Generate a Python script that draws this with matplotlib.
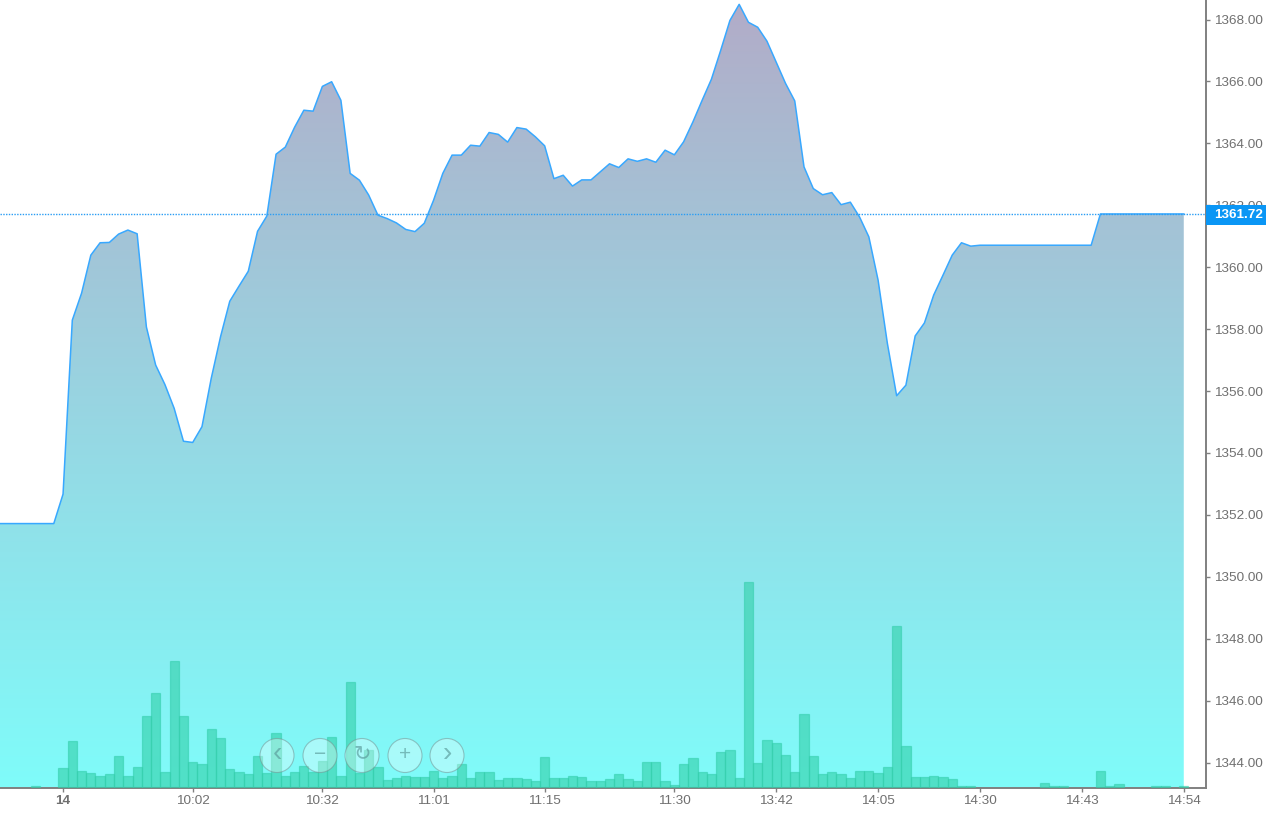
import numpy as np
import matplotlib
matplotlib.use("Agg")
import matplotlib.pyplot as plt
from matplotlib.patches import Polygon, Circle, Rectangle
from matplotlib.transforms import blended_transform_factory

plt.rcParams['font.family'] = ['Liberation Sans', 'DejaVu Sans']

W, H = 1266, 813

price = [
    1351.72, 1351.72, 1351.72, 1351.72, 1351.72, 1351.72, 1351.72,
    1352.67, 1358.29, 1359.16, 1360.39, 1360.79, 1360.80, 1361.07, 1361.20, 1361.08,
    1358.07, 1356.84, 1356.21, 1355.44, 1354.38, 1354.34, 1354.85, 1356.41, 1357.75,
    1358.90, 1359.39, 1359.87, 1361.16, 1361.65, 1363.65, 1363.88, 1364.52, 1365.07,
    1365.04, 1365.84, 1365.99, 1365.39, 1363.03, 1362.81, 1362.33, 1361.68, 1361.57,
    1361.43, 1361.22, 1361.15, 1361.42, 1362.16, 1363.03, 1363.62, 1363.62, 1363.94,
    1363.91, 1364.35, 1364.29, 1364.04, 1364.51, 1364.46, 1364.21, 1363.92, 1362.86,
    1362.97, 1362.62, 1362.82, 1362.82, 1363.08, 1363.34, 1363.22, 1363.50, 1363.42,
    1363.50, 1363.39, 1363.78, 1363.63, 1364.05, 1364.69, 1365.39, 1366.07, 1367.00,
    1367.97, 1368.49, 1367.91, 1367.75, 1367.30, 1366.62, 1365.94, 1365.37, 1363.24,
    1362.54, 1362.34, 1362.41, 1362.02, 1362.10, 1361.62, 1360.98, 1359.58, 1357.54,
    1355.85, 1356.19, 1357.78, 1358.20, 1359.10, 1359.74, 1360.39, 1360.79, 1360.68,
    1360.71, 1360.71, 1360.71, 1360.71, 1360.71, 1360.71, 1360.71, 1360.71, 1360.71,
    1360.71, 1360.71, 1360.71, 1360.71, 1361.72, 1361.72, 1361.72, 1361.72, 1361.72,
    1361.72, 1361.72, 1361.72, 1361.72, 1361.72,
]

volume = [
    0, 0, 0, 0, 1.3, 0, 0,
    19, 46.3, 16.3, 14, 11.3, 12.7, 31.3, 11.3, 20,
    71.3, 94, 15, 126.3, 71.3, 25, 22.7, 57.7, 49,
    17.7, 15, 12.7, 31.3, 14, 54, 11.3, 15, 21.3,
    15.3, 26.3, 50, 11.3, 105, 14, 37, 20, 7.3,
    9, 11, 10, 10, 16.3, 8.7, 11.3, 22.7, 8.7,
    15, 15, 7.3, 9, 9, 7.7, 6.3, 30, 8.7,
    8.7, 11.3, 10, 6.3, 6.3, 7.7, 12.7, 7.7, 6.3,
    25, 25, 6.3, 2.3, 22.7, 28.7, 15, 12.7, 35,
    37.3, 9, 205, 24, 47.3, 44, 32.3, 15, 72.7,
    31.3, 12.7, 15, 12.7, 9, 16.3, 16.3, 14, 20,
    161.3, 41.3, 10, 10, 11.3, 10, 7.7, 1.3, 1.3,
    0, 0, 0, 0, 0, 0, 0, 4, 1.3,
    1.3, 0, 0, 0, 16.3, 1.3, 2.7, 0, 0,
    0, 1.3, 1.3, 0, 1.3,
]

x_tick_pos = [7, 21, 35, 47, 59, 73, 84, 95, 106, 117, 128]
x_tick_labels = ["14", "10:02", "10:32", "11:01", "11:15", "11:30", "13:42", "14:05", "14:30", "14:43", "14:54"]
y_ticks = [1344, 1346, 1348, 1350, 1352, 1354, 1356, 1358, 1360, 1362, 1364, 1366, 1368]
last_price = 1361.72

button_x = [277, 320, 362, 405, 447]
button_glyphs = ["‹", "−", "↻", "+", "›"]

AXIS_COLOR = "#808080"
TEXT_COLOR = "#707070"
LINE_COLOR = "#38a8ff"

x = np.arange(len(price))

fig = plt.figure(figsize=(W / 100, H / 100), dpi=100, facecolor="white")
ax = fig.add_axes([0, 25 / H, 1206 / W, 788 / H])

ylim = (1343.18, 1368.63)
xlim = (0.194, 130.4)
ax.set_xlim(*xlim)
ax.set_ylim(*ylim)

# gradient under the line
top_rgb = np.array([178, 172, 200]) / 255
bottom_rgb = np.array([127, 252, 250]) / 255
steps = np.linspace(0, 1, 256)[:, None, None]
grad = top_rgb[None, None, :] * (1 - steps) + bottom_rgb[None, None, :] * steps
img = ax.imshow(grad, extent=[x[0], x[-1], ylim[0], max(price)], aspect="auto", zorder=1, interpolation="bilinear")
verts = [(x[0], ylim[0])] + list(zip(x, price)) + [(x[-1], ylim[0])]
clip = Polygon(verts, closed=True, transform=ax.transData, facecolor="none", edgecolor="none")
ax.add_patch(clip)
img.set_clip_path(clip)
ax.set_xlim(*xlim)
ax.set_ylim(*ylim)

ax.plot(x, price, color=LINE_COLOR, lw=1.1, zorder=3)
ax.axhline(last_price, color="#2a9df4", lw=1.0, ls=(0, (1, 1)), zorder=4)

ax.spines["top"].set_visible(False)
ax.spines["left"].set_visible(False)
ax.spines["right"].set_color(AXIS_COLOR)
ax.spines["bottom"].set_color(AXIS_COLOR)
ax.spines["right"].set_linewidth(1.4)
ax.spines["bottom"].set_linewidth(1.4)

ax.yaxis.tick_right()
ax.set_yticks(y_ticks)
ax.set_yticklabels([f"{v:.2f}" for v in y_ticks])
ax.set_xticks(x_tick_pos)
ax.set_xticklabels(x_tick_labels)
ax.tick_params(axis="y", length=3, width=1, color=AXIS_COLOR, labelcolor=TEXT_COLOR, labelsize=9.7, pad=3)
ax.tick_params(axis="x", length=3, width=1, color=AXIS_COLOR, labelcolor=TEXT_COLOR, labelsize=9.7, pad=2)
ax.get_xticklabels()[0].set_fontweight("bold")

# volume bars, own scale in the same box
ax_vol = fig.add_axes(ax.get_position(), facecolor="none")
ax_vol.set_xlim(ax.get_xlim())
ax_vol.set_ylim(-1, 787)
ax_vol.axis("off")
vol = np.array(volume)
mask = vol > 0
ax_vol.bar(x[mask], vol[mask], width=1.0, color=(49 / 255, 207 / 255, 167 / 255, 0.6),
           edgecolor=(50 / 255, 205 / 255, 170 / 255, 0.55), linewidth=0.9)

# last price tag
trans = blended_transform_factory(ax.transAxes, ax.transData)
ax.add_patch(Rectangle((1.0, last_price - 0.36), 60 / 1206, 0.66, transform=trans, facecolor="#0a96f5",
                       edgecolor="none", clip_on=False, zorder=9))
ax.text(1.0 + 8 / 1206, last_price - 0.03, f"{last_price:.2f}", transform=trans, color="white", fontsize=9.7,
        fontweight="bold", va="center", ha="left", zorder=10, clip_on=False)

# zoom buttons
overlay = fig.add_axes([0, 0, 1, 1], facecolor="none")
overlay.set_xlim(0, W)
overlay.set_ylim(H, 0)
overlay.axis("off")
for bx, glyph in zip(button_x, button_glyphs):
    overlay.add_patch(Circle((bx, 755.5), 17, facecolor=(1, 1, 1, 0.32), edgecolor=(0.45, 0.55, 0.55, 0.5), lw=0.8))
    size = 20 if glyph in "‹›" else 15
    overlay.text(bx, 754, glyph, ha="center", va="center", fontsize=size, fontweight="normal",
                 color=(0.35, 0.6, 0.6, 0.65))

fig.savefig("out.png", dpi=100)
